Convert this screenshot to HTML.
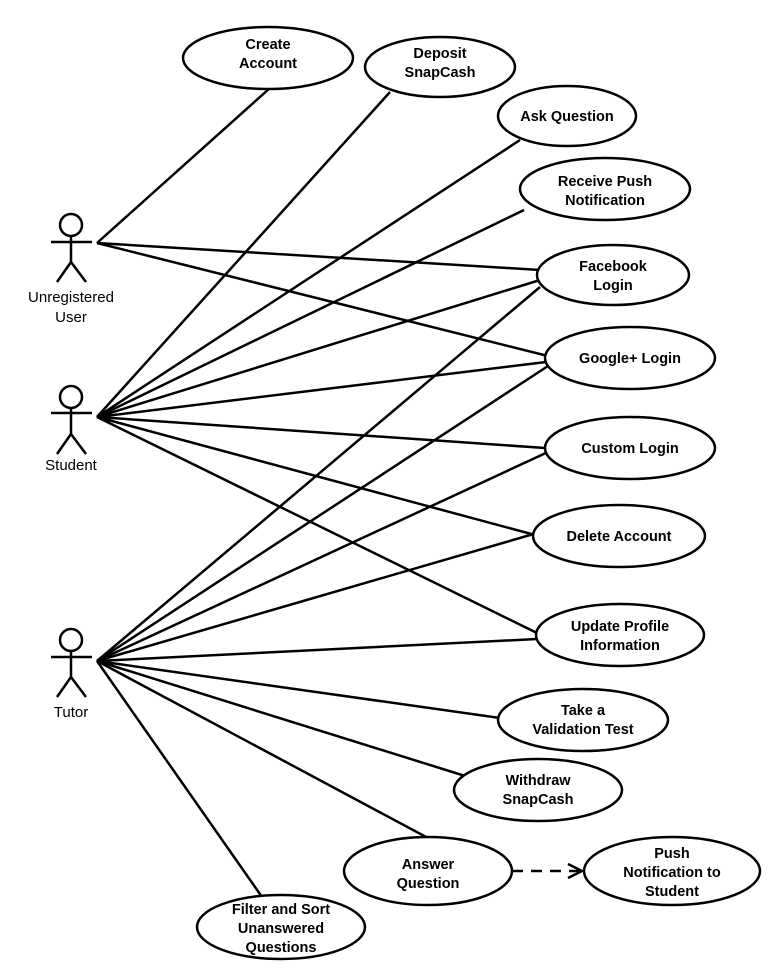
<!DOCTYPE html>
<html><head><style>body{margin:0;background:#fff}svg{display:block}</style></head><body>
<svg width="768" height="977" viewBox="0 0 768 977" xmlns="http://www.w3.org/2000/svg" font-family="Liberation Sans, sans-serif">
<g stroke="#000" stroke-width="2.5" fill="none">
<line x1="97" y1="243" x2="270" y2="88"/>
<line x1="97" y1="243" x2="540" y2="270"/>
<line x1="97" y1="243" x2="548" y2="356"/>
<line x1="97" y1="417" x2="390" y2="92"/>
<line x1="97" y1="417" x2="520" y2="140"/>
<line x1="97" y1="417" x2="524" y2="210"/>
<line x1="97" y1="417" x2="540" y2="280"/>
<line x1="97" y1="417" x2="546" y2="362"/>
<line x1="97" y1="417" x2="545" y2="448"/>
<line x1="97" y1="417" x2="535" y2="535"/>
<line x1="97" y1="417" x2="537" y2="633"/>
<line x1="97" y1="661" x2="540" y2="287"/>
<line x1="97" y1="661" x2="548" y2="366"/>
<line x1="97" y1="661" x2="548" y2="452"/>
<line x1="97" y1="661" x2="537" y2="533"/>
<line x1="97" y1="661" x2="537" y2="639"/>
<line x1="97" y1="661" x2="500" y2="718"/>
<line x1="97" y1="661" x2="478" y2="780"/>
<line x1="97" y1="661" x2="428" y2="838"/>
<line x1="97" y1="661" x2="262" y2="897"/>
<line x1="512" y1="871" x2="580" y2="871" stroke-dasharray="11,8"/>
<polyline points="568,864 582,871 568,878"/>
</g>
<g stroke="#000" stroke-width="2.5" fill="#fff">
<ellipse cx="268" cy="58" rx="85" ry="31"/>
<ellipse cx="440" cy="67" rx="75" ry="30"/>
<ellipse cx="567" cy="116" rx="69" ry="30"/>
<ellipse cx="605" cy="189" rx="85" ry="31"/>
<ellipse cx="613" cy="275" rx="76" ry="30"/>
<ellipse cx="630" cy="358" rx="85" ry="31"/>
<ellipse cx="630" cy="448" rx="85" ry="31"/>
<ellipse cx="619" cy="536" rx="86" ry="31"/>
<ellipse cx="620" cy="635" rx="84" ry="31"/>
<ellipse cx="583" cy="720" rx="85" ry="31"/>
<ellipse cx="538" cy="790" rx="84" ry="31"/>
<ellipse cx="428" cy="871" rx="84" ry="34"/>
<ellipse cx="672" cy="871" rx="88" ry="34"/>
<ellipse cx="281" cy="927" rx="84" ry="32"/>
</g>
<g stroke="#000" stroke-width="2.5" fill="none">
<circle cx="71" cy="225" r="11"/><line x1="51" y1="242" x2="92" y2="242"/><line x1="71" y1="236" x2="71" y2="262"/><polyline points="57,282 71,262 86,282"/>
<circle cx="71" cy="397" r="11"/><line x1="51" y1="413" x2="92" y2="413"/><line x1="71" y1="408" x2="71" y2="434"/><polyline points="57,454 71,434 86,454"/>
<circle cx="71" cy="640" r="11"/><line x1="51" y1="657" x2="92" y2="657"/><line x1="71" y1="651" x2="71" y2="677"/><polyline points="57,697 71,677 86,697"/>
</g>
<g font-size="15" text-anchor="middle" fill="#000">
<text x="71" y="302">Unregistered</text><text x="71" y="322">User</text>
<text x="71" y="470">Student</text>
<text x="71" y="717">Tutor</text>
</g>
<g font-size="14.5" font-weight="bold" text-anchor="middle" fill="#000">
<text x="268" y="49">Create</text><text x="268" y="68">Account</text>
<text x="440" y="58">Deposit</text><text x="440" y="77">SnapCash</text>
<text x="567" y="121">Ask Question</text>
<text x="605" y="186">Receive Push</text><text x="605" y="205">Notification</text>
<text x="613" y="271">Facebook</text><text x="613" y="290">Login</text>
<text x="630" y="363">Google+ Login</text>
<text x="630" y="453">Custom Login</text>
<text x="619" y="541">Delete Account</text>
<text x="620" y="631">Update Profile</text><text x="620" y="650">Information</text>
<text x="583" y="715">Take a</text><text x="583" y="734">Validation Test</text>
<text x="538" y="800" dy="-15">Withdraw</text><text x="538" y="804">SnapCash</text>
<text x="428" y="869">Answer</text><text x="428" y="888">Question</text>
<text x="672" y="858">Push</text><text x="672" y="877">Notification to</text><text x="672" y="896">Student</text>
<text x="281" y="914">Filter and Sort</text><text x="281" y="933">Unanswered</text><text x="281" y="952">Questions</text>
</g>
</svg>
</body></html>
